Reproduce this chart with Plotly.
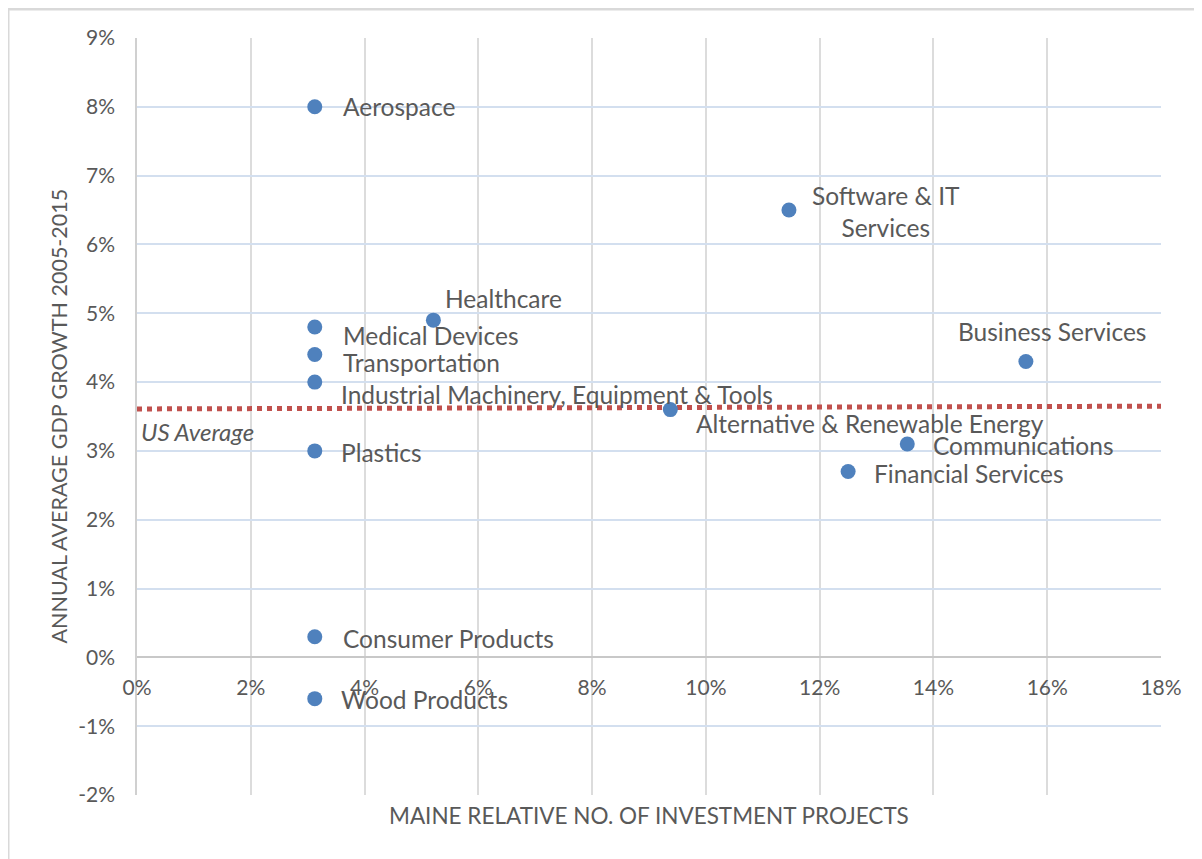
import plotly.graph_objects as go

# ---- data ----
sectors = ["Aerospace", "Software & IT<br>Services", "Healthcare", "Medical Devices",
           "Transportation", "Industrial Machinery, Equipment & Tools", "Plastics",
           "Consumer Products", "Wood Products", "Alternative & Renewable Energy",
           "Business Services", "Communications", "Financial Services"]
investment_share = [3.125, 11.46, 5.21, 3.125, 3.125, 3.125, 3.125, 3.125, 3.125,
                    9.375, 15.625, 13.54, 12.5]
gdp_growth = [8.0, 6.5, 4.9, 4.8, 4.4, 4.0, 3.0, 0.3, -0.6, 3.6, 4.3, 3.1, 2.7]
us_avg_x = [0, 18]
us_avg_y = [3.61, 3.65]
x_ticks = list(range(0, 19, 2))
y_ticks = list(range(-2, 10))

# ---- label styles (pixel offsets) ----
label_style = [
    dict(xanchor="left", xshift=26, yshift=0),      # Aerospace
    dict(xanchor="center", xshift=97, yshift=-1),   # Software
    dict(xanchor="left", xshift=10, yshift=22),     # Healthcare
    dict(xanchor="left", xshift=26, yshift=-8),     # Medical
    dict(xanchor="left", xshift=26, yshift=-8),     # Transportation
    dict(xanchor="left", xshift=24, yshift=-12),    # Industrial
    dict(xanchor="left", xshift=24, yshift=-2),     # Plastics
    dict(xanchor="left", xshift=26, yshift=-2),     # Consumer
    dict(xanchor="left", xshift=24, yshift=-1),     # Wood
    dict(xanchor="left", xshift=24, yshift=-14),    # Alt energy
    dict(xanchor="center", xshift=26, yshift=30),   # Business
    dict(xanchor="left", xshift=24, yshift=-1),     # Communications
    dict(xanchor="left", xshift=24, yshift=-2),     # Financial
]

FONT = "Lato"
TXT = "#595959"
L, T, PW, PH = 129, 30, 1024, 757

fig = go.Figure()
fig.add_trace(go.Scatter(x=us_avg_x, y=us_avg_y, mode="lines",
                         line=dict(color="#c0504d", width=5, dash="dot"),
                         hoverinfo="skip", showlegend=False))
fig.add_trace(go.Scatter(x=investment_share, y=gdp_growth, mode="markers",
                         marker=dict(color="#4f81bd", size=15),
                         showlegend=False))

annotations = []
for name, xv, yv, st in zip(sectors, investment_share, gdp_growth, label_style):
    annotations.append(dict(x=xv, y=yv, xref="x", yref="y", text=name,
                            showarrow=False, xanchor=st["xanchor"], yanchor="middle",
                            xshift=st["xshift"], yshift=st["yshift"],
                            align="center",
                            font=dict(family=FONT, size=24.5, color=TXT)))
annotations.append(dict(x=us_avg_x[0], y=us_avg_y[0], xref="x", yref="y",
                        text="<i>US Average</i>", showarrow=False,
                        xanchor="left", yanchor="middle", xshift=2, yshift=-23,
                        font=dict(family=FONT, size=24, color=TXT)))
annotations.append(dict(x=0.5, y=-20 / PH, xref="paper", yref="paper",
                        text="MAINE RELATIVE NO. OF INVESTMENT PROJECTS",
                        showarrow=False, xanchor="center", yanchor="middle",
                        font=dict(family=FONT, size=22.5, color=TXT)))
annotations.append(dict(x=-79 / PW, y=0.5, xref="paper", yref="paper",
                        text="ANNUAL AVERAGE GDP GROWTH 2005-2015", textangle=-90,
                        showarrow=False, xanchor="center", yanchor="middle",
                        font=dict(family=FONT, size=21.5, color=TXT)))

fig.update_layout(
    width=1194, height=851,
    margin=dict(l=L, r=41, t=T, b=64),
    paper_bgcolor="white", plot_bgcolor="white",
    font=dict(family=FONT, color=TXT, size=21),
    annotations=annotations,
    shapes=[
        dict(type="line", xref="paper", yref="paper",
             x0=(0 - L) / PW, x1=1.2, y0=(PH + T - 1) / PH, y1=(PH + T - 1) / PH,
             line=dict(color="#d9d9d9", width=3), layer="below"),
        dict(type="line", xref="paper", yref="paper",
             x0=(0 - L) / PW, x1=(0 - L) / PW, y0=-0.2, y1=(PH + T - 1) / PH,
             line=dict(color="#d9d9d9", width=3), layer="below"),
    ],
)
fig.update_xaxes(range=[0, 18], tickvals=x_ticks, ticktext=[f"{v}%" for v in x_ticks],
                 showgrid=True, gridcolor="#dcdcdc", gridwidth=1.5,
                 zeroline=False, showline=False, anchor="free", position=2 / 11,
                 ticks="outside", ticklen=11, tickcolor="rgba(0,0,0,0)",
                 tickfont=dict(family=FONT, size=21, color=TXT))
fig.update_yaxes(range=[-2, 9], tickvals=y_ticks, ticktext=[f"{v}%" for v in y_ticks],
                 showgrid=True, gridcolor="#d3dfef", gridwidth=2,
                 zeroline=True, zerolinecolor="#c8c8c8", zerolinewidth=2,
                 showline=True, linecolor="#d0d0d0", linewidth=1.5,
                 ticks="outside", ticklen=16, tickcolor="rgba(0,0,0,0)",
                 tickfont=dict(family=FONT, size=21, color=TXT))

fig.write_html("out.html")
